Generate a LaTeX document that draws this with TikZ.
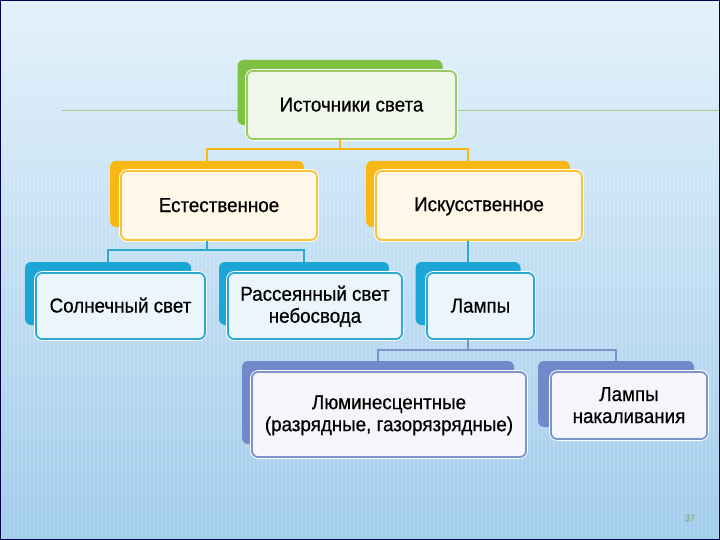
\documentclass[tikz,border=0pt]{standalone}
\usepackage{fontspec}
\setmainfont{Liberation Sans}[FakeStretch=0.93, FakeBold=0.6]
\definecolor{bgtop}{HTML}{E2F1FB}
\definecolor{bgmid}{HTML}{C0DFF4}
\definecolor{bgbot}{HTML}{A0CBEB}
\definecolor{gback}{HTML}{7DC242}
\definecolor{gfill}{HTML}{F1F7EA}
\definecolor{gline}{HTML}{96CC60}
\definecolor{oback}{HTML}{F8B712}
\definecolor{ofill}{HTML}{FFF8E8}
\definecolor{oline}{HTML}{F6C238}
\definecolor{cback}{HTML}{1CA6D6}
\definecolor{cfill}{HTML}{EAF6FB}
\definecolor{cline}{HTML}{2BA9D2}
\definecolor{sback}{HTML}{7189C8}
\definecolor{sfill}{HTML}{F4F6FB}
\definecolor{sline}{HTML}{7C92CA}
\definecolor{deco}{HTML}{A4C890}
\tikzset{
  back/.style={rectangle, rounded corners=6pt, inner sep=0pt},
  front/.style={rectangle, rounded corners=6pt, inner sep=0pt, line width=1.8pt, align=center,
    font=\fontsize{20.2}{22}\selectfont, preaction={draw=white, line width=3.6pt}},
  conn/.style={line width=1.6pt},
}
\newcommand{\st}{\rule[-2.5pt]{0pt}{18pt}}
\begin{document}
\begin{tikzpicture}[x=1pt,y=-1pt]
\useasboundingbox (0,0) rectangle (720,540);
\shade[top color=bgtop, middle color=bgmid, bottom color=bgbot] (0,0) rectangle (720,540);
\foreach \x in {2,6,...,720} \draw[white, opacity=0.12, line width=1.3pt] (\x,0) -- (\x,540);
\draw[deco, line width=0.8pt] (62,110) -- (720,110);

% root
\node[back, fill=gback, minimum width=205pt, minimum height=65pt] (rootB) at (340,92.5) {};
\node[front, fill=gfill, draw=gline, minimum width=209pt, minimum height=68pt] (rootF) at (351.5,105) {Источники света\st};

% level 1
\node[back, fill=oback, minimum width=194pt, minimum height=66pt] (natB) at (207,194) {};
\node[front, fill=ofill, draw=oline, minimum width=196pt, minimum height=69pt] (natF) at (219,205.5) {Естественное\st};
\node[back, fill=oback, minimum width=204pt, minimum height=66pt] (artB) at (468,194) {};
\node[front, fill=ofill, draw=oline, minimum width=206pt, minimum height=69pt] (artF) at (479,205.5) {Искусственное\st};

% level 2
\node[back, fill=cback, minimum width=166pt, minimum height=63pt] (sunB) at (108,293.5) {};
\node[front, fill=cfill, draw=cline, minimum width=169pt, minimum height=66pt] (sunF) at (120.5,306) {Солнечный свет\st};
\node[back, fill=cback, minimum width=170pt, minimum height=63pt] (skyB) at (304,293.5) {};
\node[front, fill=cfill, draw=cline, minimum width=174pt, minimum height=66pt] (skyF) at (315,306) {Рассеянный свет\st\\небосвода\st};
\node[back, fill=cback, minimum width=105pt, minimum height=63pt] (lampB) at (468,293.5) {};
\node[front, fill=cfill, draw=cline, minimum width=107pt, minimum height=66pt] (lampF) at (480.5,306) {Лампы\st};

% level 3
\node[back, fill=sback, minimum width=272pt, minimum height=83pt] (lumB) at (378,402.5) {};
\node[front, fill=sfill, draw=sline, minimum width=274pt, minimum height=85pt] (lumF) at (389,414.5) {Люминесцентные\st\\(разрядные, газорязрядные)\st};
\node[back, fill=sback, minimum width=156pt, minimum height=66pt] (incB) at (616,394) {};
\node[front, fill=sfill, draw=sline, minimum width=156pt, minimum height=67pt] (incF) at (629,405.5) {Лампы\st\\накаливания\st};

% connectors
\draw[conn, oback] (rootB.center |- rootF.south) -- (340,149) -| (natB.north);
\draw[conn, oback] (340,149) -| (artB.north);
\draw[conn, cline] (natB.center |- natF.south) -- (207,250) -| (sunB.north);
\draw[conn, cline] (207,250) -| (skyB.north);
\draw[conn, cline] (artB.center |- artF.south) -- (lampB.north);
\draw[conn, sline] (lampB.center |- lampF.south) -- (468,350) -| (lumB.north);
\draw[conn, sline] (468,350) -| (incB.north);

\node[font=\fontsize{10}{12}\selectfont, text=deco!80!black, opacity=0.7] (pg) at (690,518) {37};
\draw[black!70!blue, line width=1pt] (0.5,0.5) rectangle (719.5,539.5);
\end{tikzpicture}
\end{document}
